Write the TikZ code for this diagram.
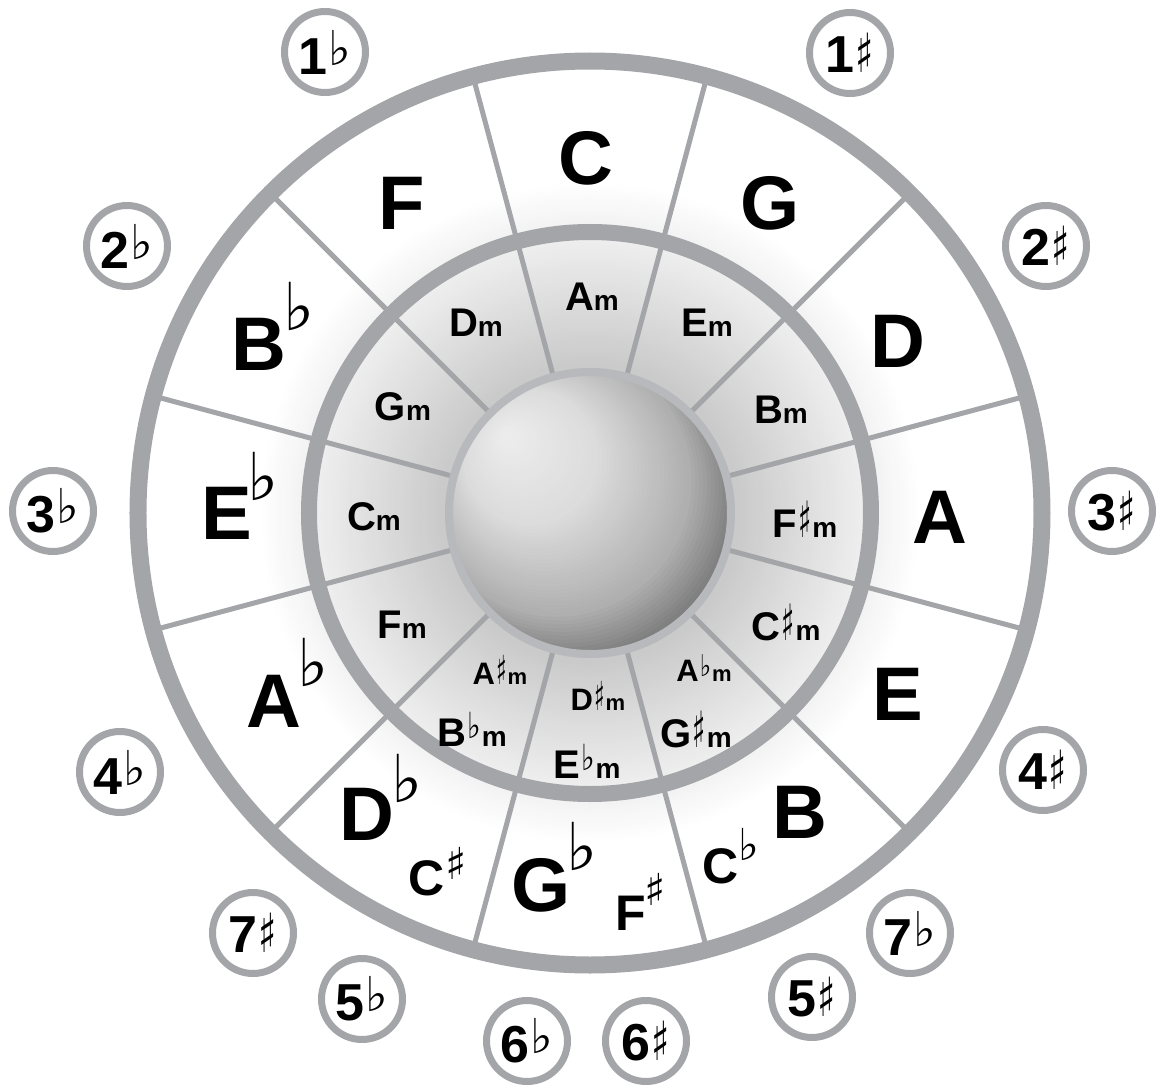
\documentclass[tikz,border=0pt]{standalone}
\usepackage{fontspec}
\usepackage{graphicx}
\setmainfont{Liberation Sans}
\newfontfamily\symf{DejaVu Sans}
\definecolor{ringgray}{RGB}{163,165,168}
\definecolor{bordergray}{RGB}{184,185,188}
\newcommand\fmaj{\fontsize{76}{76}\selectfont\bfseries}
\newcommand\fmid{\fontsize{50}{50}\selectfont\bfseries}
\newcommand\fmin{\fontsize{40}{40}\selectfont\bfseries}
\newcommand\fminm{\fontsize{28}{28}\selectfont\bfseries}
\newcommand\fsml{\fontsize{31}{31}\selectfont\bfseries}
\newcommand\fsmlm{\fontsize{22}{22}\selectfont\bfseries}
\newcommand\fdig{\fontsize{52}{52}\selectfont\bfseries}
\newcommand\accbig{\fontsize{66}{66}\symf}
\newcommand\accmid{\fontsize{44}{44}\symf}
\newcommand\kfl{\kern1pt\raisebox{9pt}{\fontsize{48}{48}\symf ♭}}
\newcommand\ksh{\kern1pt\raisebox{0pt}{\scalebox{0.7}[1]{\fontsize{54}{54}\symf ♯}}}
\newcommand\msh{\kern1pt\raisebox{0pt}{\scalebox{0.55}[1]{\fontsize{50}{50}\symf ♯}}\kern1pt}
\newcommand\mfl{\kern1pt\raisebox{8pt}{\scalebox{0.8}[1]{\fontsize{36}{36}\symf ♭}}\kern1pt}
\newcommand\ssh{\kern1pt\raisebox{0pt}{\scalebox{0.55}[1]{\fontsize{40}{40}\symf ♯}}\kern1pt}
\newcommand\sfl{\kern1pt\raisebox{5pt}{\scalebox{0.8}[1]{\fontsize{30}{30}\symf ♭}}\kern1pt}
\tikzset{
  ringline/.style={draw=ringgray},
  divider/.style={draw=ringgray, line width=5pt},
  keyc/.style={circle, draw=ringgray, line width=7pt, fill=white, minimum size=81pt, inner sep=0pt},
  maj/.style={inner sep=0pt, font=\fmaj},
  mid/.style={inner sep=0pt, font=\fmid},
  bigacc/.style={inner sep=0pt, font=\accbig},
  midacc/.style={inner sep=0pt, font=\accmid},
  minl/.style={inner sep=0pt, font=\fmin},
  sml/.style={inner sep=0pt, font=\fsml}
}
\begin{document}
\begin{tikzpicture}[x=1pt,y=1pt]
\useasboundingbox (-590,-575) rectangle (570,513);
% radial gradient of the two bands (white outside, grey towards the centre)
\foreach \r in {445,442,...,139} {
  \pgfmathtruncatemacro\v{min(255, 200 + 0.2895*(\r-141))}
  \definecolor{bandtmp}{RGB}{\v,\v,\v}
  \fill[bandtmp] (0,0) circle (\r);
}
% rings and dividers
\draw[ringline, line width=17pt] (0,0) circle (452);
\foreach \a in {15,45,...,345} {
  \draw[divider] (\a:281) -- (\a:446);
  \draw[divider] (\a:141) -- (\a:276);
}
\draw[ringline, line width=16pt] (0,0) circle (281);
% sphere with highlight at the top left
\begin{scope}
  \clip (0,0) circle (141);
  \foreach \t in {80,79,...,1} {
    \pgfmathsetmacro\s{\t/80}
    \pgfmathsetmacro\cx{-84.6*(1-\s)}
    \pgfmathsetmacro\cy{79*(1-\s)}
    \pgfmathsetmacro\rr{2.82*\t}
    \pgfmathtruncatemacro\v{(\s<0.3) ? (238-60*\s) : ((\s<0.6) ? (220-150*(\s-0.3)) : ((\s<0.76) ? (175-340*(\s-0.6)) : max(100, 120-200*(\s-0.76))))}
    \definecolor{sphtmp}{RGB}{\v,\v,\v}
    \fill[sphtmp] (\cx,\cy) circle (\rr);
  }
\end{scope}
\draw[draw=bordergray, line width=8pt] (0,0) circle (141);

% major keys
\node[maj] (C) at (-4,355) {C};
\node[maj] (G) at (180,310) {G};
\node[maj] (D) at (308,172) {D};
\node[maj] (A) at (350,-4) {A};
\node[maj] (E) at (308,-181) {E};
\node[maj] (B) at (210,-299) {B};
\node[maj] (F) at (-188,310) {F};
\node[maj] (Bb) at (-331,169) {B};
\node[bigacc] (Bbf) at (-291,207) {♭};
\node[maj] (Eb) at (-363,0) {E};
\node[bigacc] (Ebf) at (-327,37) {♭};
\node[maj] (Ab) at (-316,-188) {A};
\node[bigacc] (Abf) at (-277,-149) {♭};
\node[maj] (Db) at (-223,-301) {D};
\node[bigacc] (Dbf) at (-183,-265) {♭};
\node[maj] (Gb) at (-49,-372) {G};
\node[bigacc] (Gbf) at (-8,-333) {♭};
\node[mid] (Cs) at (-163,-365) {C};
\node[midacc] (Css) at (-134,-350) {♯};
\node[mid] (Fs) at (41,-400) {F};
\node[midacc] (Fss) at (65,-376) {♯};
\node[mid] (Cb) at (131,-353) {C};
\node[midacc] (Cbf) at (159,-331) {♭};

% minor keys
\node[minl] (Am) at (2,216) {A{\fminm m}};
\node[minl] (Em) at (117,190) {E{\fminm m}};
\node[minl] (Bm) at (191,103) {B{\fminm m}};
\node[minl] (Fsm) at (215,-6) {F\msh{\fminm m}};
\node[minl] (Csm) at (196,-109) {C\msh{\fminm m}};
\node[sml] (Abm) at (114,-155) {A\sfl{\fsmlm m}};
\node[minl] (Gsm) at (106,-216) {G\msh{\fminm m}};
\node[sml] (Dsm) at (8,-183) {D\ssh{\fsmlm m}};
\node[minl] (Ebm) at (-3,-248) {E\mfl{\fminm m}};
\node[sml] (Asm) at (-90,-157) {A\ssh{\fsmlm m}};
\node[minl] (Bbm) at (-118,-216) {B\mfl{\fminm m}};
\node[minl] (Fm) at (-188,-112) {F{\fminm m}};
\node[minl] (Cm) at (-216,-4) {C{\fminm m}};
\node[minl] (Gm) at (-187,106) {G{\fminm m}};
\node[minl] (Dm) at (-114,190) {D{\fminm m}};

% key signature circles
\node[keyc] (k1b) at (-265,461) {\fdig 1\kfl};
\node[keyc] (k1s) at (260,460) {\fdig 1\ksh};
\node[keyc] (k2b) at (-463,267) {\fdig 2\kfl};
\node[keyc] (k2s) at (456,267) {\fdig 2\ksh};
\node[keyc] (k3b) at (-537,2) {\fdig 3\kfl};
\node[keyc] (k3s) at (522,2) {\fdig 3\ksh};
\node[keyc] (k4b) at (-470,-259) {\fdig 4\kfl};
\node[keyc] (k4s) at (453,-257) {\fdig 4\ksh};
\node[keyc] (k7s) at (-337,-420) {\fdig 7\ksh};
\node[keyc] (k5b) at (-228,-486) {\fdig 5\kfl};
\node[keyc] (k6b) at (-63,-528) {\fdig 6\kfl};
\node[keyc] (k6s) at (56,-528) {\fdig 6\ksh};
\node[keyc] (k5s) at (222,-484) {\fdig 5\ksh};
\node[keyc] (k7b) at (320,-420) {\fdig 7\kfl};
\end{tikzpicture}
\end{document}
